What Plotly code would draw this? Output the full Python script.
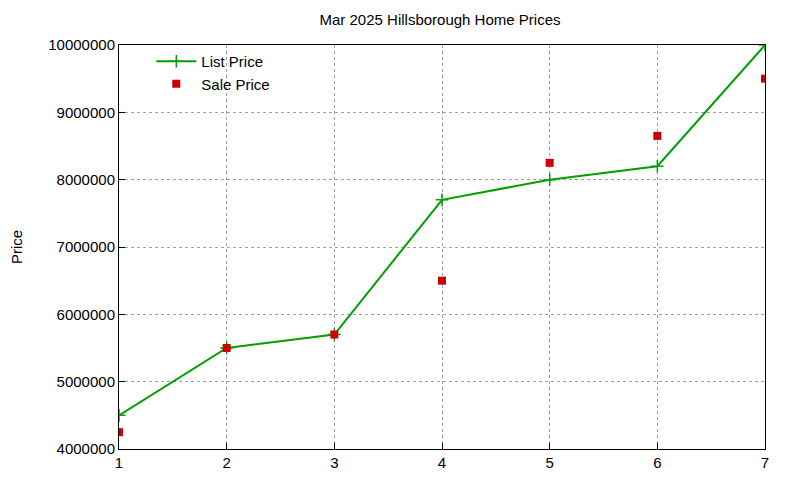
import plotly.graph_objects as go

x = [1, 2, 3, 4, 5, 6, 7]
list_price = [4500000, 5500000, 5700000, 7700000, 8000000, 8200000, 10000000]
sale_price = [4250000, 5500000, 5700000, 6500000, 8250000, 8650000, 9500000]
yticks = [4000000, 5000000, 6000000, 7000000, 8000000, 9000000, 10000000]

fig = go.Figure()
fig.add_trace(go.Scatter(x=x, y=list_price, mode="lines+markers", name="List Price",
                         line=dict(color="#00a000", width=2),
                         marker=dict(symbol="cross-thin", size=9, line=dict(color="#00a000", width=1.5))))
fig.add_trace(go.Scatter(x=x, y=sale_price, mode="markers", name="Sale Price",
                         marker=dict(symbol="square", size=8, color="#cc0000")))

ax = dict(showline=True, linecolor="black", linewidth=1, mirror=True,
          ticks="inside", ticklen=6, tickcolor="black",
          gridcolor="#a0a0a0", griddash="dot", gridwidth=1, zeroline=False,
          tickfont=dict(size=15, color="black"))
fig.update_xaxes(range=[1, 7], tickvals=x, **ax)
fig.update_yaxes(range=[4000000, 10000000], tickvals=yticks, tickformat="d",
                 title=dict(text="Price", font=dict(size=15, color="black"), standoff=30), **ax)
fig.update_layout(
    width=800, height=480, template="none",
    paper_bgcolor="white", plot_bgcolor="white",
    font=dict(family="Liberation Sans, Arial, sans-serif", size=14, color="black"),
    margin=dict(l=111, r=43, t=37, b=39, autoexpand=False),
    title=dict(text="Mar 2025 Hillsborough Home Prices", x=0.54, xanchor="center", y=0.975,
               yanchor="middle", font=dict(size=15)),
    legend=dict(x=0.05, y=1.0, xanchor="left", yanchor="top", bgcolor="rgba(0,0,0,0)",
                font=dict(size=15), tracegroupgap=0, itemwidth=40),
    showlegend=True,
)
fig.write_html("out.html")
